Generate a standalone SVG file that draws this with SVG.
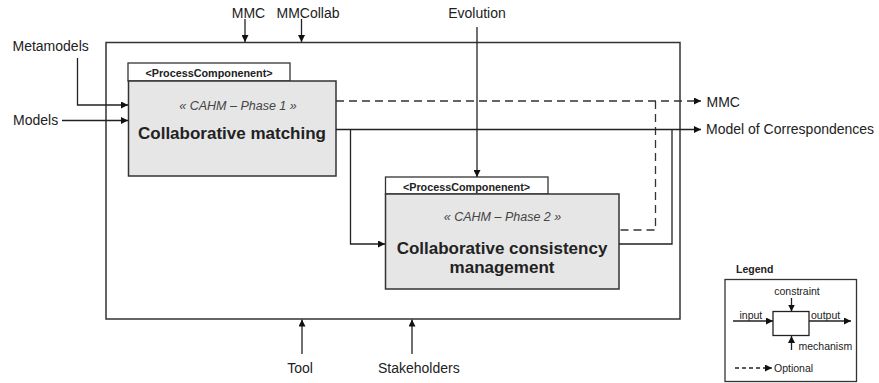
<svg xmlns="http://www.w3.org/2000/svg" width="879" height="383" viewBox="0 0 879 383">
<style>
text{font-family:"Liberation Sans",Arial,sans-serif;fill:#222}
.lbl{font-size:14px}
.tab{font-size:10.8px;font-weight:bold;text-anchor:middle}
.ph{font-size:12.5px;font-style:italic;fill:#444;text-anchor:middle}
.main{font-size:17px;font-weight:bold;text-anchor:middle}
.lg{font-size:10.5px}
.box{fill:#e6e6e6;stroke:#333;stroke-width:1.5}
.tabr{fill:#fff;stroke:#333;stroke-width:1.3}
.ln{fill:none;stroke:#222;stroke-width:1.3}
.dash{fill:none;stroke:#333;stroke-width:1.3;stroke-dasharray:8,5}
</style>
<defs>
<marker id="ah" viewBox="0 0 10 10" refX="10" refY="5" markerWidth="7" markerHeight="7" markerUnits="userSpaceOnUse" orient="auto">
<path d="M0,0 L10,5 L0,10 z" fill="#111"/>
</marker>
</defs>
<rect id="outer" x="106" y="42.5" width="574" height="276.5" fill="#fff" stroke="#333" stroke-width="1.5"/>
<g id="node-phase1">
<rect class="tabr" x="128" y="63" width="162" height="18"/>
<text class="tab" x="209" y="76.5">&lt;ProcessComponenent&gt;</text>
<rect class="box" x="128.5" y="81" width="207.5" height="95"/>
<text class="ph" x="238" y="110">« CAHM – Phase 1 »</text>
<text class="main" x="232" y="139">Collaborative matching</text>
</g>
<g id="node-phase2">
<rect class="tabr" x="385.5" y="177" width="162.5" height="17"/>
<text class="tab" x="466.5" y="190.5">&lt;ProcessComponenent&gt;</text>
<rect class="box" x="385.5" y="194" width="233.5" height="95"/>
<text class="ph" x="502.5" y="220.5">« CAHM – Phase 2 »</text>
<text class="main" x="502" y="253.5">Collaborative consistency</text>
<text class="main" x="502" y="272.5">management</text>
</g>
<g id="connectors">
<path class="ln" d="M245,19 V42" marker-end="url(#ah)"/>
<path class="ln" d="M301.5,19 V42" marker-end="url(#ah)"/>
<path class="ln" d="M477,27 V177" marker-end="url(#ah)"/>
<path class="ln" d="M77.5,58 V105 H128" marker-end="url(#ah)"/>
<path class="ln" d="M62,120.5 H128" marker-end="url(#ah)"/>
<path class="dash" d="M336,101 H694"/>
<path class="ln" d="M694,101 H701" marker-end="url(#ah)"/>
<path class="dash" d="M655.5,101 V230 H619"/>
<path class="ln" d="M336,129.5 H701" marker-end="url(#ah)"/>
<path class="ln" d="M350.5,129.5 V244 H385" marker-end="url(#ah)"/>
<path class="ln" d="M619,244 H672 V129.5"/>
<path class="ln" d="M302,354 V319.5" marker-end="url(#ah)"/>
<path class="ln" d="M412,354 V319.5" marker-end="url(#ah)"/>
</g>
<g id="labels">
<text class="lbl" x="248.5" y="17.5" text-anchor="middle">MMC</text>
<text class="lbl" x="308" y="17.5" text-anchor="middle">MMCollab</text>
<text class="lbl" x="477" y="18" text-anchor="middle">Evolution</text>
<text class="lbl" x="12.5" y="51">Metamodels</text>
<text class="lbl" x="13" y="125">Models</text>
<text class="lbl" x="706.5" y="106.5">MMC</text>
<text class="lbl" x="706" y="134">Model of Correspondences</text>
<text class="lbl" x="300" y="373" text-anchor="middle">Tool</text>
<text class="lbl" x="378" y="373">Stakeholders</text>
</g>
<g id="legend">
<text x="736" y="273" style="font-size:10.5px;font-weight:bold">Legend</text>
<rect x="725" y="279.5" width="131.5" height="102" fill="#fff" stroke="#333" stroke-width="1.3"/>
<rect x="773" y="311.5" width="36" height="24" fill="#fff" stroke="#222" stroke-width="1.3"/>
<path class="ln" d="M791.5,298 V311.5" marker-end="url(#ah)"/>
<path class="ln" d="M791.5,350 V336" marker-end="url(#ah)"/>
<path class="ln" d="M733,321 H773" marker-end="url(#ah)"/>
<path class="ln" d="M809,321 H851" marker-end="url(#ah)"/>
<path class="ln" d="M735,368 H766" stroke-dasharray="4,3"/>
<path class="ln" d="M765,368 H772" marker-end="url(#ah)"/>
<text class="lg" x="797" y="295" text-anchor="middle">constraint</text>
<text class="lg" x="739.5" y="319">input</text>
<text class="lg" x="811" y="319">output</text>
<text class="lg" x="798.5" y="349.5">mechanism</text>
<text class="lg" x="774" y="372">Optional</text>
</g>
</svg>
